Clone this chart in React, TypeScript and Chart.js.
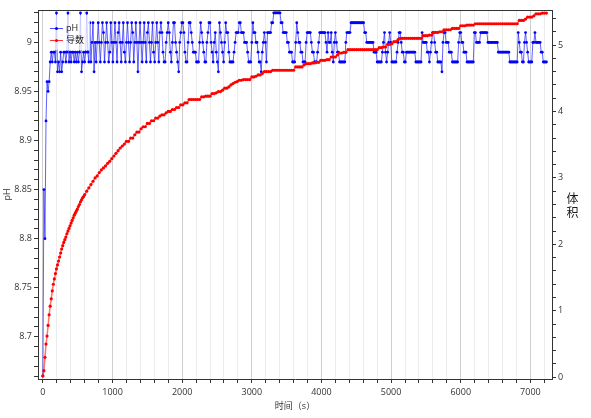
import React, { useEffect, useRef } from 'react';
import { Chart, registerables } from 'chart.js';

Chart.register(...registerables);

const FONT = '"Segoe UI", "Open Sans", "Noto Sans CJK SC", sans-serif';

// pH reading every 15 s, starting at t = 0
const PH_STEP = 15;
const phValues: number[] = [
  8.66, 8.85, 8.80, 8.92, 8.96, 8.95, 8.96, 8.98, 8.99, 8.98, 8.99, 8.99, 8.98, 9.03, 8.97, 8.98, 8.97, 8.99, 8.97, 8.98,
  8.99, 8.99, 8.98, 8.99, 9.03, 8.98, 8.99, 8.98, 8.99, 8.99, 8.98, 8.99, 8.98, 8.99, 8.98, 8.99, 9.03, 8.97, 8.98, 8.99,
  8.98, 8.99, 9.03, 8.99, 8.98, 9.02, 8.98, 9.00, 9.02, 8.97, 9.00, 8.98, 9.00, 9.02, 9.00, 8.98, 9.00, 9.02, 9.01, 8.98,
  9.00, 9.02, 9.00, 8.98, 8.99, 9.02, 9.00, 8.98, 9.00, 9.02, 9.00, 8.98, 9.01, 9.02, 9.00, 8.98, 9.00, 9.02, 8.99, 8.98,
  9.00, 9.02, 9.00, 8.98, 9.00, 9.02, 9.01, 8.98, 9.00, 9.02, 9.00, 8.97, 9.00, 9.02, 9.00, 8.98, 9.00, 9.02, 9.00, 8.98,
  9.01, 9.02, 9.00, 8.98, 9.00, 9.02, 8.99, 8.98, 9.00, 9.02, 9.00, 8.98, 9.01, 9.02, 9.01, 8.99, 8.98, 8.98, 9.00, 9.01,
  9.02, 9.01, 8.99, 8.98, 9.00, 9.02, 9.02, 9.00, 8.99, 8.98, 8.97, 9.00, 9.01, 9.02, 9.02, 9.01, 8.99, 8.98, 8.98, 9.00,
  9.02, 9.02, 9.01, 9.00, 8.99, 8.99, 8.99, 8.98, 8.98, 8.98, 9.00, 9.02, 9.01, 9.00, 8.99, 8.98, 8.98, 9.00, 9.01, 9.02,
  9.02, 9.00, 8.99, 8.98, 9.00, 9.01, 8.99, 8.98, 8.97, 9.02, 9.01, 9.00, 8.99, 8.98, 9.00, 9.02, 9.01, 9.01, 8.99, 8.98,
  8.98, 8.98, 8.98, 8.99, 9.00, 9.01, 9.01, 9.01, 9.02, 9.02, 9.01, 9.01, 9.01, 9.00, 9.00, 9.00, 8.99, 8.98, 8.98, 8.98,
  9.00, 9.02, 9.01, 9.01, 9.00, 9.00, 8.99, 8.98, 8.98, 8.97, 8.99, 9.00, 9.01, 9.00, 8.98, 9.01, 9.01, 9.01, 9.01, 9.02,
  9.02, 9.03, 9.03, 9.03, 9.03, 9.03, 9.03, 9.03, 9.02, 9.02, 9.01, 9.01, 9.01, 9.01, 9.00, 9.00, 8.99, 8.99, 8.99, 8.98,
  8.98, 8.98, 9.00, 9.02, 9.01, 9.00, 9.00, 8.99, 8.99, 8.98, 8.98, 8.98, 9.00, 9.01, 9.01, 9.01, 9.01, 9.00, 8.99, 8.99,
  8.98, 8.98, 8.98, 8.99, 9.00, 9.01, 9.01, 9.01, 9.01, 9.01, 9.01, 9.00, 8.99, 9.01, 9.00, 9.00, 9.01, 8.99, 8.98, 9.00,
  9.01, 9.00, 8.99, 8.99, 8.98, 8.98, 8.98, 8.98, 8.98, 8.98, 9.00, 9.01, 9.01, 9.01, 9.01, 9.02, 9.02, 9.02, 9.02, 9.02,
  9.02, 9.02, 9.02, 9.02, 9.02, 9.02, 9.02, 9.02, 9.01, 9.01, 9.00, 9.00, 9.00, 9.00, 9.00, 9.00, 9.00, 8.99, 8.99, 8.99,
  8.98, 8.98, 8.98, 8.98, 8.98, 8.99, 9.00, 9.01, 8.99, 8.98, 8.99, 9.00, 9.01, 9.00, 8.98, 8.98, 8.98, 8.98, 8.98, 8.99,
  9.00, 9.01, 9.01, 9.00, 8.99, 8.99, 8.98, 8.98, 8.99, 8.99, 8.99, 8.99, 8.99, 8.99, 8.99, 8.99, 8.99, 8.98, 8.98, 8.98,
  8.98, 8.98, 8.98, 9.01, 9.00, 9.00, 9.00, 9.00, 8.99, 8.99, 8.98, 8.99, 9.00, 9.01, 9.01, 9.00, 8.99, 8.99, 8.98, 8.98,
  8.98, 8.98, 8.97, 9.00, 9.01, 9.01, 9.00, 9.00, 9.00, 8.99, 8.99, 8.99, 8.98, 8.98, 8.98, 8.98, 8.98, 8.98, 9.00, 9.01,
  9.01, 9.00, 9.00, 8.99, 8.99, 8.99, 8.98, 8.98, 8.98, 8.98, 8.98, 8.98, 8.98, 9.01, 9.01, 9.00, 9.00, 9.00, 9.00, 9.01,
  9.01, 9.01, 9.01, 9.01, 9.01, 9.01, 9.00, 9.00, 9.00, 9.00, 9.00, 9.00, 9.00, 9.00, 9.00, 9.00, 8.99, 8.99, 8.99, 8.99,
  8.99, 8.99, 8.99, 8.99, 8.99, 8.99, 8.99, 8.98, 8.98, 8.98, 8.98, 8.98, 8.98, 8.98, 8.98, 9.01, 9.00, 8.99, 8.99, 8.98,
  8.98, 9.00, 9.01, 9.00, 8.99, 8.98, 8.98, 8.98, 8.98, 9.00, 9.00, 9.01, 9.00, 9.00, 9.00, 9.00, 9.00, 8.99, 8.99, 8.98,
  8.98, 8.98, 8.98,
];

// volume: every 15 s up to 600 s, then every 30 s from 630 s
const VOLUME_EARLY_STEP = 15;
const volumeEarly: number[] = [
  0.02, 0.10, 0.30, 0.50, 0.62, 0.78, 0.94, 1.07, 1.18, 1.30, 1.40, 1.48, 1.56, 1.63, 1.69, 1.75, 1.81, 1.87, 1.93, 1.98,
  2.03, 2.07, 2.11, 2.16, 2.20, 2.24, 2.28, 2.32, 2.36, 2.40, 2.44, 2.47, 2.50, 2.53, 2.57, 2.60, 2.64, 2.67, 2.70, 2.72,
  2.75,
];
const VOLUME_LATE_START = 630;
const VOLUME_LATE_STEP = 30;
const volumeLate: number[] = [
  2.80, 2.85, 2.90, 2.95, 3.00, 3.03, 3.08, 3.12, 3.15, 3.18,
  3.22, 3.25, 3.29, 3.33, 3.37, 3.41, 3.45, 3.48, 3.51, 3.55,
  3.55, 3.60, 3.60, 3.65, 3.69, 3.69, 3.74, 3.77, 3.77, 3.82,
  3.82, 3.86, 3.86, 3.90, 3.90, 3.93, 3.95, 3.95, 3.98, 4.00,
  4.00, 4.03, 4.03, 4.06, 4.06, 4.10, 4.10, 4.13, 4.13, 4.18,
  4.18, 4.18, 4.18, 4.18, 4.18, 4.22, 4.22, 4.23, 4.23, 4.23,
  4.27, 4.27, 4.28, 4.30, 4.30, 4.32, 4.35, 4.35, 4.37, 4.40,
  4.42, 4.44, 4.45, 4.47, 4.47, 4.48, 4.48, 4.48, 4.48, 4.52,
  4.52, 4.53, 4.55, 4.55, 4.57, 4.60, 4.60, 4.60, 4.60, 4.62,
  4.62, 4.62, 4.62, 4.62, 4.62, 4.62, 4.62, 4.62, 4.62, 4.62,
  4.67, 4.67, 4.67, 4.67, 4.70, 4.72, 4.72, 4.72, 4.73, 4.73,
  4.74, 4.74, 4.77, 4.77, 4.77, 4.78, 4.78, 4.82, 4.82, 4.82,
  4.85, 4.88, 4.88, 4.89, 4.89, 4.93, 4.93, 4.93, 4.93, 4.93,
  4.93, 4.93, 4.93, 4.93, 4.93, 4.93, 4.93, 4.93, 4.93, 4.93,
  4.96, 4.96, 4.97, 4.97, 5.01, 5.01, 5.02, 5.05, 5.05, 5.08,
  5.10, 5.10, 5.10, 5.10, 5.10, 5.10, 5.10, 5.10, 5.10, 5.10,
  5.10, 5.14, 5.14, 5.14, 5.15, 5.15, 5.19, 5.19, 5.19, 5.20,
  5.20, 5.23, 5.23, 5.23, 5.23, 5.25, 5.25, 5.25, 5.25, 5.29,
  5.29, 5.29, 5.30, 5.30, 5.30, 5.30, 5.32, 5.32, 5.32, 5.32,
  5.32, 5.32, 5.32, 5.32, 5.32, 5.32, 5.32, 5.32, 5.32, 5.32,
  5.32, 5.32, 5.32, 5.32, 5.32, 5.32, 5.32, 5.37, 5.37, 5.37,
  5.39, 5.42, 5.42, 5.42, 5.44, 5.47, 5.47, 5.47, 5.48, 5.48,
  5.48,
];

// labelled ticks
const xLabelTicks = [0, 1000, 2000, 3000, 4000, 5000, 6000, 7000];
const phLabelTicks = [8.7, 8.75, 8.8, 8.85, 8.9, 8.95, 9];
const volumeLabelTicks = [0, 1, 2, 3, 4, 5];

// minor tick spacing (every tick gets a mark, only the ones above get text)
const X_MINOR = 200;
const PH_MINOR = 0.01;
const VOLUME_MINOR = 0.2;

const isIn = (list: number[], v: number) => list.some((t) => Math.abs(t - v) < 1e-6);

const minorTicks = (min: number, max: number, step: number) => {
  const out: { value: number }[] = [];
  const first = Math.ceil(min / step - 1e-9);
  const last = Math.floor(max / step + 1e-9);
  for (let k = first; k <= last; k++) out.push({ value: Math.round(k * step * 1000) / 1000 });
  return out;
};

// top border of the plot box (axes draw the other three sides)
const framePlugin = {
  id: 'frame',
  afterDraw(chart: any) {
    const { ctx, chartArea: a } = chart;
    ctx.save();
    ctx.strokeStyle = '#333';
    ctx.lineWidth = 1;
    ctx.beginPath();
    ctx.moveTo(a.left, a.top + 0.5);
    ctx.lineTo(a.right, a.top + 0.5);
    ctx.stroke();
    ctx.restore();
  },
};

const App: React.FC = () => {
  const chartRef = useRef<HTMLCanvasElement | null>(null);

  useEffect(() => {
    document.body.style.margin = '0';
    if (!chartRef.current) return;

    const phPoints = phValues.map((y, i) => ({ x: i * PH_STEP, y }));
    const volumePoints = [
      ...volumeEarly.map((y, i) => ({ x: i * VOLUME_EARLY_STEP, y })),
      ...volumeLate.map((y, i) => ({ x: VOLUME_LATE_START + i * VOLUME_LATE_STEP, y })),
    ];

    const tickFont = { family: FONT, size: 9 };

    const chart = new Chart(chartRef.current, {
      type: 'line',
      data: {
        datasets: [
          {
            label: 'pH',
            data: phPoints,
            yAxisID: 'y',
            borderColor: 'rgba(30, 30, 255, 0.7)',
            borderWidth: 1,
            pointRadius: 1.4,
            pointBorderWidth: 0,
            pointBackgroundColor: '#0000ff',
            order: 1,
          },
          {
            label: '导数',
            data: volumePoints,
            yAxisID: 'y1',
            borderColor: 'rgba(255, 0, 0, 0.55)',
            borderWidth: 1.5,
            pointRadius: 1.6,
            pointBorderWidth: 0,
            pointBackgroundColor: '#ff0000',
            order: 0,
          },
        ],
      },
      options: {
        responsive: false,
        animation: false,
        layout: { padding: { top: 10, left: 0, right: 0, bottom: 0 } },
        plugins: {
          legend: { display: false },
          tooltip: { enabled: false },
        },
        scales: {
          x: {
            type: 'linear',
            min: -70,
            max: 7310,
            afterBuildTicks: (s: any) => {
              s.ticks = minorTicks(s.min, s.max, X_MINOR);
            },
            ticks: {
              autoSkip: false,
              maxRotation: 0,
              padding: 4,
              color: '#333',
              font: tickFont,
              callback: (v: any) => (isIn(xLabelTicks, Number(v)) ? String(v) : ''),
            },
            grid: {
              color: (ctx: any) => (ctx.tick && isIn(xLabelTicks, ctx.tick.value) ? '#cfcfcf' : '#ececec'),
              tickColor: '#333',
              tickLength: 4,
            },
            border: { color: '#333' },
            title: {
              display: true,
              text: '时间（s）',
              color: '#333',
              font: { family: FONT, size: 9 },
              padding: { top: 0, bottom: 6 },
            },
            afterFit: (s: any) => {
              s.height = 39;
            },
          },
          y: {
            type: 'linear',
            position: 'left',
            min: 8.657,
            max: 9.033,
            afterBuildTicks: (s: any) => {
              s.ticks = minorTicks(s.min, s.max, PH_MINOR);
            },
            ticks: {
              autoSkip: false,
              padding: 2,
              color: '#333',
              font: tickFont,
              callback: (v: any) => {
                const t = phLabelTicks.find((p) => Math.abs(p - Number(v)) < 1e-6);
                return t === undefined ? '' : String(t);
              },
            },
            grid: { drawOnChartArea: false, tickColor: '#333', tickLength: 4 },
            border: { color: '#333' },
            title: {
              display: true,
              text: 'pH',
              color: '#333',
              font: { family: FONT, size: 9 },
              padding: { top: 2, bottom: 0 },
            },
            afterFit: (s: any) => {
              s.width = 38;
            },
          },
          y1: {
            type: 'linear',
            position: 'right',
            min: -0.026,
            max: 5.527,
            afterBuildTicks: (s: any) => {
              s.ticks = minorTicks(s.min, s.max, VOLUME_MINOR);
            },
            ticks: {
              autoSkip: false,
              padding: 2,
              color: '#333',
              font: tickFont,
              callback: (v: any) => {
                const t = volumeLabelTicks.find((p) => Math.abs(p - Number(v)) < 1e-6);
                return t === undefined ? '' : String(t);
              },
            },
            grid: { drawOnChartArea: false, tickColor: '#333', tickLength: 4 },
            border: { color: '#333' },
            afterFit: (s: any) => {
              s.width = 39;
            },
          },
        },
      },
      plugins: [framePlugin],
    });

    return () => {
      chart.destroy();
    };
  }, []);

  const legendText: React.CSSProperties = {
    position: 'absolute',
    left: 66,
    fontSize: 9,
    lineHeight: '12px',
    color: '#222',
    fontFamily: FONT,
    whiteSpace: 'nowrap',
  };

  return (
    <div style={{ position: 'absolute', left: 0, top: 0, width: 591, height: 418 }}>
      <canvas ref={chartRef} width={591} height={418}></canvas>

      {/* legend inside the plot, top-left */}
      <div
        style={{
          position: 'absolute',
          left: 43,
          top: 15,
          width: 47,
          height: 35,
          background: 'rgba(255, 255, 255, 0.7)',
        }}
      />
      <div style={{ position: 'absolute', left: 50, top: 28, width: 13, height: 1, background: 'rgba(30,30,255,0.8)' }} />
      <div style={{ position: 'absolute', left: 55, top: 27, width: 3, height: 3, borderRadius: '50%', background: '#0000ff' }} />
      <span style={{ ...legendText, top: 22 }}>pH</span>
      <div style={{ position: 'absolute', left: 50, top: 40, width: 13, height: 1, background: 'rgba(255,0,0,0.8)' }} />
      <div style={{ position: 'absolute', left: 55, top: 39, width: 3, height: 3, borderRadius: '50%', background: '#ff0000' }} />
      <span style={{ ...legendText, top: 34 }}>导数</span>

      {/* right axis title, upright characters */}
      <div
        style={{
          position: 'absolute',
          left: 566,
          top: 192,
          width: 13,
          fontSize: 12,
          lineHeight: '14px',
          textAlign: 'center',
          color: '#1a1a1a',
          fontFamily: FONT,
        }}
      >
        体
        <br />
        积
      </div>
    </div>
  );
};

export default App;
